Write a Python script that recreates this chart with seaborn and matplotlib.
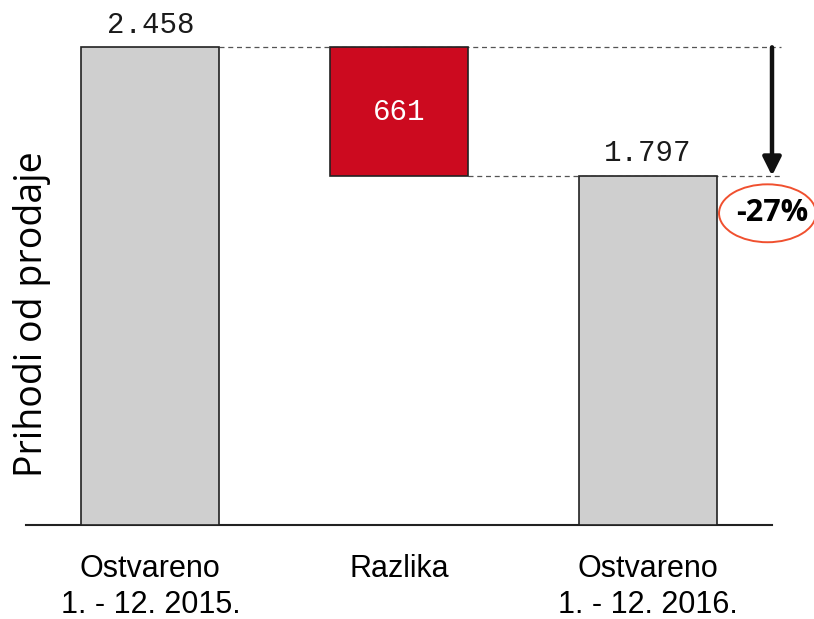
import matplotlib
matplotlib.use('Agg')
import matplotlib.pyplot as plt
import matplotlib.patches as mpatches
import pandas as pd
import seaborn as sns

# data
categories = ['Ostvareno\n1. - 12. 2015.', 'Razlika', 'Ostvareno\n1. - 12. 2016.']
totals = [2458, 1797]
difference = 661
change_label = '-27%'


def fmt(v):
    return f'{v:,}'.replace(',', '.')


def main():
    sns.set_style('white')
    plt.rcParams['font.family'] = ['Liberation Sans', 'DejaVu Sans']
    plt.rcParams['text.color'] = 'black'
    plt.rcParams['axes.labelcolor'] = 'black'
    plt.rcParams['xtick.color'] = 'black'

    gray = '#cfcfcf'
    red = '#cc0a1f'
    edge = '#222222'
    bar_w = 0.555

    fig = plt.figure(figsize=(8.14, 6.19), dpi=100)
    ax = fig.add_axes([26 / 814, 94 / 619, 746 / 814, 515 / 619])

    df_tot = pd.DataFrame({'kat': [categories[0], categories[2]], 'iznos': totals})
    sns.barplot(data=df_tot, x='kat', y='iznos', order=categories, color=gray,
                saturation=1, width=bar_w, edgecolor=edge, linewidth=1.2, ax=ax, zorder=3)
    df_diff = pd.DataFrame({'kat': [categories[1]], 'iznos': [difference]})
    sns.barplot(data=df_diff, x='kat', y='iznos', order=categories, color=red,
                saturation=1, width=bar_w, edgecolor=edge, linewidth=1.2, ax=ax,
                bottom=totals[1], zorder=3)

    ax.set_xlim(-0.5, 2.5)
    ax.set_ylim(0, 2650)

    # dashed connectors
    ax.plot([bar_w / 2, 2.535], [totals[0], totals[0]], ls=(0, (4, 3)), color='#555555',
            lw=0.9, clip_on=False, zorder=1)
    ax.plot([1 + bar_w / 2, 2.535], [totals[1], totals[1]], ls=(0, (4, 3)), color='#555555',
            lw=0.9, clip_on=False, zorder=1)

    # value labels
    mono = ['Liberation Mono', 'DejaVu Sans Mono']
    ax.annotate(fmt(totals[0]), (0, totals[0]), xytext=(0, 6), textcoords='offset points',
                ha='center', va='bottom', fontsize=21, family=mono, color='#1a1a1a')
    ax.annotate(fmt(totals[1]), (2, totals[1]), xytext=(0, 6), textcoords='offset points',
                ha='center', va='bottom', fontsize=21, family=mono, color='#1a1a1a')
    ax.text(1, totals[1] + difference / 2, fmt(difference), ha='center', va='center',
            fontsize=21, family=mono, color='white', zorder=4)

    # arrow showing the drop
    ax.annotate('', xy=(2.5, totals[1]), xytext=(2.5, totals[0]), annotation_clip=False,
                arrowprops=dict(arrowstyle='-|>,head_width=0.55,head_length=1.1',
                                color='#111111', lw=3.2, shrinkA=0, shrinkB=0))

    # percentage change in an ellipse
    ell = mpatches.Ellipse((2.482, 1604), 0.39, 298, fill=False, edgecolor='#f0502f',
                           lw=1.4, clip_on=False, zorder=5)
    ax.add_patch(ell)
    ax.text(2.502, 1604, change_label, ha='center', va='center', fontsize=22,
            fontweight='bold', family=['Open Sans', 'DejaVu Sans'], color='black',
            clip_on=False, zorder=6)

    sns.despine(ax=ax, left=True, top=True, right=True)
    ax.spines['bottom'].set_color('#222222')
    ax.spines['bottom'].set_linewidth(1.5)
    ax.set_yticks([])
    ax.tick_params(axis='x', length=0, pad=21, labelsize=22)
    for lbl in ax.get_xticklabels():
        lbl.set_linespacing(1.25)
    ax.set_xlabel('')
    ax.set_ylabel('Prihodi od prodaje', fontsize=27, family=['Open Sans', 'DejaVu Sans'])
    ax.yaxis.set_label_coords(0.033, 0.41)

    fig.savefig('out.png', dpi=100)


if __name__ == '__main__':
    main()
